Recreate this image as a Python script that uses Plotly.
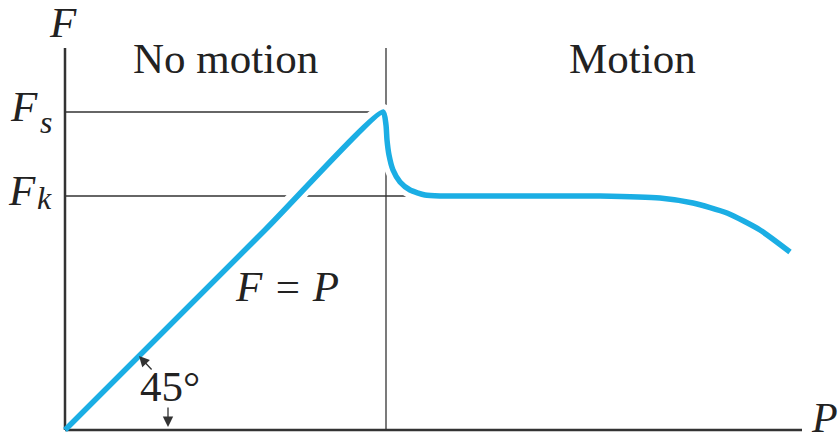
import plotly.graph_objects as go

# friction curve F vs P (units ~ 100 px)
p_vals = [0.0, 2.0, 3.18, 3.21, 3.22, 3.24, 3.28, 3.35, 3.45, 3.60, 3.75, 5.35, 5.95, 6.28, 6.62, 6.95, 7.25]
f_vals = [0.0, 2.0, 3.18, 3.05, 2.90, 2.75, 2.60, 2.48, 2.40, 2.35, 2.34, 2.34, 2.32, 2.27, 2.17, 2.00, 1.78]

f_static = 3.18
f_kinetic = 2.34
p_slip = 3.21
p_max = 7.37
f_max = 3.82

blue = "#1BAEE4"
ink = "#333333"
serif = "Liberation Serif, Times New Roman, serif"

fig = go.Figure()

# white halo so the reference lines break where the curve crosses
fig.add_trace(go.Scatter(x=p_vals[1:], y=f_vals[1:], mode="lines",
                         line=dict(color="white", width=16, shape="spline", smoothing=0.6),
                         hoverinfo="skip", showlegend=False))
fig.add_trace(go.Scatter(x=p_vals, y=f_vals, mode="lines",
                         line=dict(color=blue, width=5.5, shape="spline", smoothing=0.6),
                         showlegend=False))

# axes and guide lines
fig.add_shape(type="line", x0=0, y0=0, x1=p_max, y1=0, line=dict(color=ink, width=2.5), layer="below")
fig.add_shape(type="line", x0=0, y0=0, x1=0, y1=f_max, line=dict(color=ink, width=2.5), layer="below")
fig.add_shape(type="line", x0=p_slip, y0=0, x1=p_slip, y1=f_max, line=dict(color=ink, width=1.3), layer="below")
fig.add_shape(type="line", x0=0, y0=f_static, x1=3.05, y1=f_static, line=dict(color=ink, width=1.3), layer="below")
fig.add_shape(type="line", x0=0, y0=f_kinetic, x1=3.48, y1=f_kinetic, line=dict(color=ink, width=1.3), layer="below")

def txt(x, y, s, size=43, italic=False, xanchor="center", yanchor="middle", dx=0, dy=0):
    fig.add_annotation(x=x, y=y, text=s, showarrow=False, xanchor=xanchor, yanchor=yanchor,
                       xshift=dx, yshift=dy,
                       font=dict(family=serif, size=size, color="#222222",
                                 style="italic" if italic else "normal"))

txt(-0.02, 4.08, "F", italic=True)
txt(1.60, 3.72, "No motion")
txt(5.67, 3.72, "Motion")
txt(-0.25, 3.24, "F", italic=True, xanchor="right")
txt(-0.27, 3.08, "s", size=32, italic=True, xanchor="left")
txt(-0.27, 2.40, "F", italic=True, xanchor="right")
txt(-0.30, 2.32, "k", size=32, italic=True, xanchor="left")
txt(2.22, 1.44, "F = P", italic=True)
txt(1.05, 0.44, "45°")
txt(7.72, -0.115, "P", size=42, italic=True, xanchor="right", yanchor="bottom", dx=3, dy=-1)

# angle arrows
fig.add_annotation(x=0.74, y=0.74, ax=0.88, ay=0.59, xref="x", yref="y", axref="x", ayref="y",
                   text="", showarrow=True, arrowhead=2, arrowsize=1.6, arrowwidth=1.3, arrowcolor=ink)
fig.add_annotation(x=1.03, y=0.03, ax=1.03, ay=0.24, xref="x", yref="y", axref="x", ayref="y",
                   text="", showarrow=True, arrowhead=2, arrowsize=1.6, arrowwidth=1.3, arrowcolor=ink)

fig.update_layout(
    width=838, height=442,
    margin=dict(l=0, r=0, t=0, b=0),
    paper_bgcolor="white", plot_bgcolor="white",
    xaxis=dict(range=[-0.65, 7.73], visible=False),
    yaxis=dict(range=[-0.12, 4.30], visible=False),
)

# drop the default page margin so the figure sits at the window corner
fig.write_html("out.html", config={"displayModeBar": False},
               post_script="document.body.style.margin='0';document.body.style.overflow='hidden';")
